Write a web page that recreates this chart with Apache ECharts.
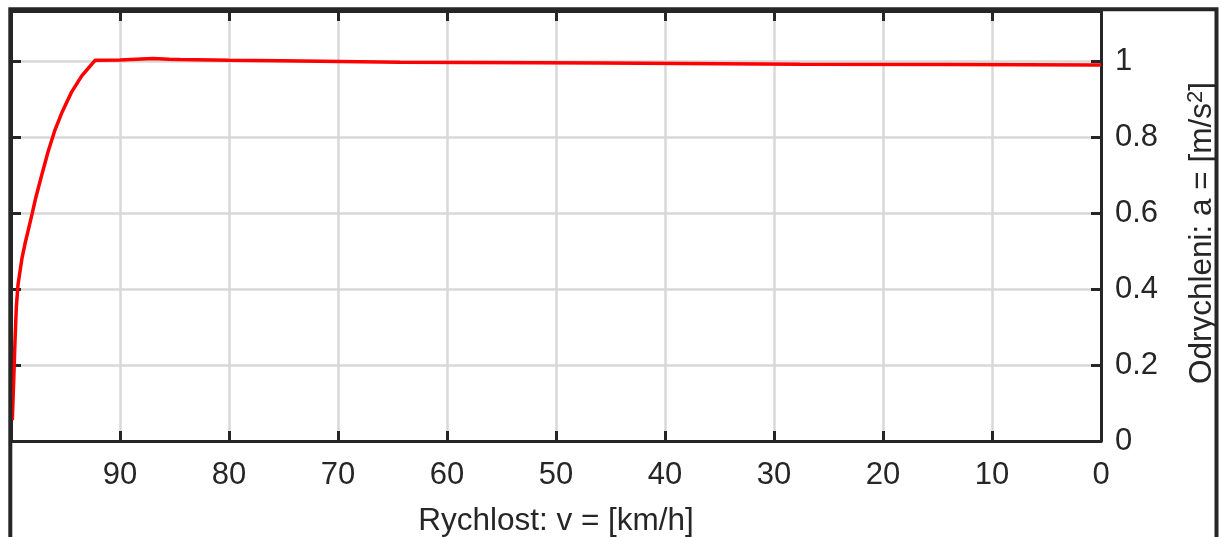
<!DOCTYPE html>
<html>
<head>
<meta charset="utf-8">
<script src="https://cdn.jsdelivr.net/npm/echarts@6/dist/echarts.min.js"></script>
<style>
  html, body { margin: 0; padding: 0; background: #fff; }
  #chart { width: 1221px; height: 537px; }
</style>
</head>
<body>
<div id="chart"></div>
<script>
// rychlost v km/h (osa obracena: 100 vlevo, 0 vpravo)
var speed = [
    99.88, 99.75, 99.63, 99.51, 99.36, 98.99, 98.72, 98.39, 98.07, 97.71,
    97.18, 96.58, 95.96, 95.35, 94.43, 93.51, 92.29,
    90.0, 88.5, 87.0, 85.5, 84.5, 80.0, 75.3, 64.3, 46.0, 27.6, 14.0, 0.0
];
// odrychleni v m/s^2
var accel = [
    0.055, 0.161, 0.266, 0.353, 0.411, 0.482, 0.519, 0.559, 0.598, 0.643,
    0.701, 0.764, 0.820, 0.864, 0.920, 0.962, 1.003,
    1.004, 1.006, 1.008, 1.006, 1.005, 1.003, 1.002, 0.998, 0.996, 0.993, 0.992, 0.991
];
var xTicks = [0, 10, 20, 30, 40, 50, 60, 70, 80, 90];
var yTicks = [0, 0.2, 0.4, 0.6, 0.8, 1];

var chart = echarts.init(document.getElementById('chart'));
var dark = '#262626';
var font = "'Liberation Sans', Arial, Helvetica, sans-serif";
var points = speed.map(function (v, i) { return [v, accel[i]]; });

function xLabel(v) { return xTicks.indexOf(v) >= 0 ? String(v) : ''; }
function yLabel(v) {
    for (var i = 0; i < yTicks.length; i++) {
        if (Math.abs(yTicks[i] - v) < 1e-6) return String(yTicks[i]);
    }
    return '';
}

var boxLine = { show: true, onZero: false, lineStyle: { color: dark, width: 3 } };
var innerTick = { show: true, inside: true, length: 10, lineStyle: { color: dark, width: 3 } };
var grid = { show: true, lineStyle: { color: '#d8d8d8', width: 2.5 } };

chart.setOption({
    backgroundColor: '#ffffff',
    animation: false,
    grid: { left: 11, right: 120, top: 11, bottom: 96, outerBoundsMode: 'none', containLabel: false },
    graphic: [{
        type: 'rect', silent: true, z: 100,
        shape: { x: 10.3, y: 9.3, width: 1206.2, height: 700 },
        style: { fill: 'none', stroke: dark, lineWidth: 4 }
    }],
    xAxis: [
        {
            type: 'value', position: 'bottom', inverse: true,
            min: 0, max: 100, interval: 10,
            name: 'Rychlost: v = [km/h]', nameLocation: 'middle', nameGap: 64,
            nameTextStyle: { color: dark, fontSize: 31.5, fontFamily: font },
            axisLine: boxLine,
            axisTick: innerTick,
            axisLabel: { color: dark, fontSize: 31, fontFamily: font, margin: 19, formatter: xLabel },
            splitLine: grid
        },
        {
            type: 'value', position: 'top', inverse: true,
            min: 0, max: 100, interval: 10,
            axisLine: boxLine,
            axisTick: innerTick,
            axisLabel: { show: false },
            splitLine: { show: false }
        }
    ],
    yAxis: [
        {
            type: 'value', position: 'right',
            min: 0, max: 1.133, interval: 0.2,
            name: '{n|Odrychleni: a = [m/s}{s|2}{n|]}',
            nameLocation: 'middle', nameRotate: 90, nameGap: 84,
            nameTextStyle: {
                color: dark, fontFamily: font, padding: [0, 14, 0, 0],
                rich: {
                    n: { fontSize: 31.5, color: dark, fontFamily: font },
                    s: { fontSize: 22, color: dark, fontFamily: font, verticalAlign: 'top', padding: [0, 0, 12, 0] }
                }
            },
            axisLine: boxLine,
            axisTick: innerTick,
            axisLabel: { color: dark, fontSize: 31, fontFamily: font, margin: 14, formatter: yLabel },
            splitLine: grid
        },
        {
            type: 'value', position: 'left',
            min: 0, max: 1.133, interval: 0.2,
            axisLine: boxLine,
            axisTick: innerTick,
            axisLabel: { show: false },
            splitLine: { show: false }
        }
    ],
    series: [{
        name: 'a(v)', type: 'line', xAxisIndex: 0, yAxisIndex: 0,
        data: points, showSymbol: false, smooth: false,
        lineStyle: { color: '#ff0000', width: 3.5 },
        itemStyle: { color: '#ff0000' }
    }]
});
</script>
</body>
</html>
